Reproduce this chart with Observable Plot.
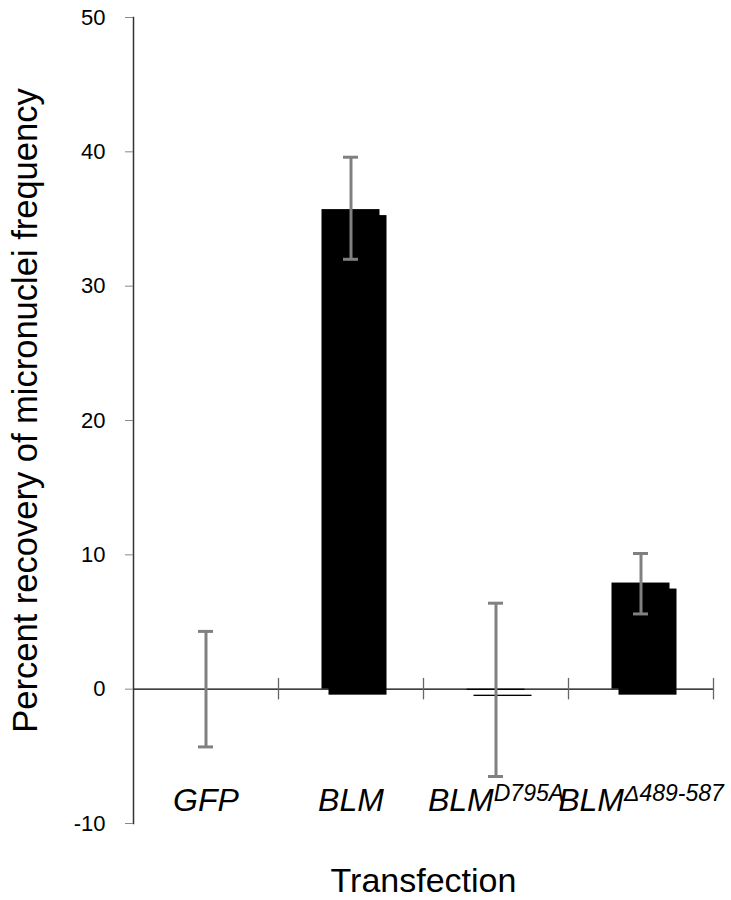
<!DOCTYPE html>
<html>
<head>
<meta charset="utf-8">
<script src="https://cdn.jsdelivr.net/npm/d3@7"></script>
<script src="https://cdn.jsdelivr.net/npm/@observablehq/plot@0.6"></script>
<style>
  html, body { margin: 0; padding: 0; background: #fff; }
  #chart svg { display: block; font-family: "Liberation Sans", Arial, sans-serif; }
</style>
</head>
<body>
<div id="chart"></div>
<script>
// ---- data ----
const categories = ["GFP", "BLM", "BLM^D795A", "BLM^Δ489-587"];
const values     = [0, 35.7, -0.1, 7.9];
const errLow     = [-4.3, 32.0, -6.5, 5.6];
const errHigh    = [4.3, 39.6, 6.4, 10.1];
const yTicks     = [-10, 0, 10, 20, 30, 40, 50];
const yLabel = "Percent recovery of micronuclei frequency";
const xLabel = "Transfection";

const data = categories.map((c, i) => ({cat: c, value: values[i], lo: errLow[i], hi: errHigh[i]}));

const W = 731, H = 900, mL = 133, mR = 18, mT = 17, mB = 77;
const band = (W - mL - mR) / categories.length;
const barInset = (band - 58) / 2;
const capInset = (band - 15) / 2;

const chart = Plot.plot({
  width: W, height: H,
  marginLeft: mL, marginRight: mR, marginTop: mT, marginBottom: mB,
  style: {fontFamily: "'Liberation Sans', Arial, sans-serif", background: "#fff"},
  x: {domain: categories, padding: 0, axis: null},
  y: {domain: [-10, 50], axis: null},
  marks: [
    // shadow bars
    Plot.barY(data, {x: "cat", y: "value", fill: "#000", insetLeft: barInset, insetRight: barInset, dx: 7, dy: 6}),
    // main bars
    Plot.barY(data, {x: "cat", y: "value", fill: "#000", insetLeft: barInset, insetRight: barInset}),
    // zero line
    Plot.ruleY([0], {stroke: "#000", strokeWidth: 1.3}),
    // category boundary ticks
    Plot.ruleX(categories, {x: d => d, dx: band / 2, y1: -0.8, y2: 0.8, stroke: "#666", strokeWidth: 1.3}),
    // error bars
    Plot.ruleX(data, {x: "cat", y1: "lo", y2: "hi", stroke: "#808080", strokeWidth: 3}),
    Plot.tickY(data, {x: "cat", y: "hi", stroke: "#808080", strokeWidth: 3, insetLeft: capInset, insetRight: capInset}),
    Plot.tickY(data, {x: "cat", y: "lo", stroke: "#808080", strokeWidth: 3, insetLeft: capInset, insetRight: capInset}),
    // y axis line
    Plot.frame({anchor: "left", stroke: "#333", strokeWidth: 1.5}),
    // y axis ticks and labels
    Plot.axisY({ticks: yTicks, tickFormat: d => String(d), tickSize: 8, tickPadding: 20, stroke: "#888", fontSize: 22, label: null, color: "#000"}),
    // category labels
    Plot.axisX({tickSize: 0, tickPadding: 0, fontSize: 32, fontStyle: "italic", label: null, dy: -35, color: "#000"}),
    // axis titles
    Plot.text([yLabel], {frameAnchor: "left", rotate: -90, dx: -121, dy: -10, lineAnchor: "top", textAnchor: "middle", fontSize: 34.5, fill: "#000"}),
    Plot.text([xLabel], {frameAnchor: "bottom", dy: 68, lineAnchor: "bottom", textAnchor: "middle", fontSize: 34, fill: "#000"})
  ]
});

// superscripts for category labels
d3.select(chart).selectAll('g[aria-label="x-axis tick label"] text').each(function () {
  const t = this.textContent;
  const parts = t.split("^");
  if (parts.length > 1) {
    const sel = d3.select(this);
    this.textContent = parts[0];
    sel.append("tspan").attr("dy", "-10").attr("font-size", 23).text(parts[1]);
  }
});

document.getElementById("chart").appendChild(chart);
</script>
</body>
</html>
